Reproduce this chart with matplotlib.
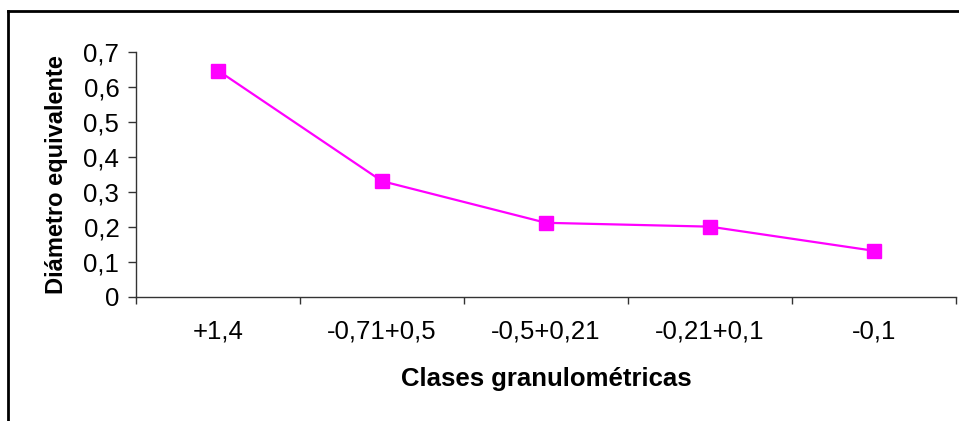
import matplotlib.pyplot as plt
from matplotlib.lines import Line2D
from matplotlib.ticker import FixedLocator, FuncFormatter

plt.rcParams['font.family'] = ['Liberation Sans', 'DejaVu Sans']

# data
clases = ["+1,4", "-0,71+0,5", "-0,5+0,21", "-0,21+0,1", "-0,1"]
diametro = [0.647, 0.331, 0.212, 0.201, 0.132]
y_ticks = [0, 0.1, 0.2, 0.3, 0.4, 0.5, 0.6, 0.7]

fs = 18.5

fig = plt.figure(figsize=(9.59, 4.21), dpi=100)
ax = fig.add_axes([136 / 959, 124 / 421, 820 / 959, 245 / 421])

x = list(range(len(clases)))
ax.plot(x, diametro, color='#FF00FF', lw=1.6, marker='s', markersize=10.5,
        markerfacecolor='#FF00FF', markeredgecolor='#FF00FF')

ax.set_xlim(-0.5, len(clases) - 0.5)
ax.set_ylim(0, 0.7)

# category labels centered, tick marks between categories (Excel style)
ax.set_xticks(x)
ax.set_xticklabels(clases)
ax.xaxis.set_minor_locator(FixedLocator([i - 0.5 for i in range(len(clases) + 1)]))
ax.tick_params(axis='x', which='major', length=0, pad=16, labelsize=fs)
ax.tick_params(axis='x', which='minor', length=5, width=1, color='#333333', direction='out')

ax.set_yticks(y_ticks)
ax.yaxis.set_major_formatter(FuncFormatter(lambda v, p: '0' if v == 0 else ('%.1f' % v).replace('.', ',')))
ax.tick_params(axis='y', length=6, width=1, color='#333333', direction='out', pad=6, labelsize=fs)

for s in ['top', 'right']:
    ax.spines[s].set_visible(False)
for s in ['left', 'bottom']:
    ax.spines[s].set_color('#333333')
    ax.spines[s].set_linewidth(1)

ax.set_xlabel("Clases granulométricas", fontsize=fs, fontweight='bold', labelpad=17)
ax.set_ylabel("Diámetro equivalente", fontsize=17, fontweight='bold', labelpad=11)

# outer chart frame (right and bottom edges cut off in the original)
fig.add_artist(Line2D([8 / 959, 1], [1 - 11 / 421, 1 - 11 / 421], transform=fig.transFigure,
                      color='black', lw=2))
fig.add_artist(Line2D([8 / 959, 8 / 959], [0, 1 - 11 / 421], transform=fig.transFigure,
                      color='black', lw=2))

fig.savefig("out.png", dpi=100)
